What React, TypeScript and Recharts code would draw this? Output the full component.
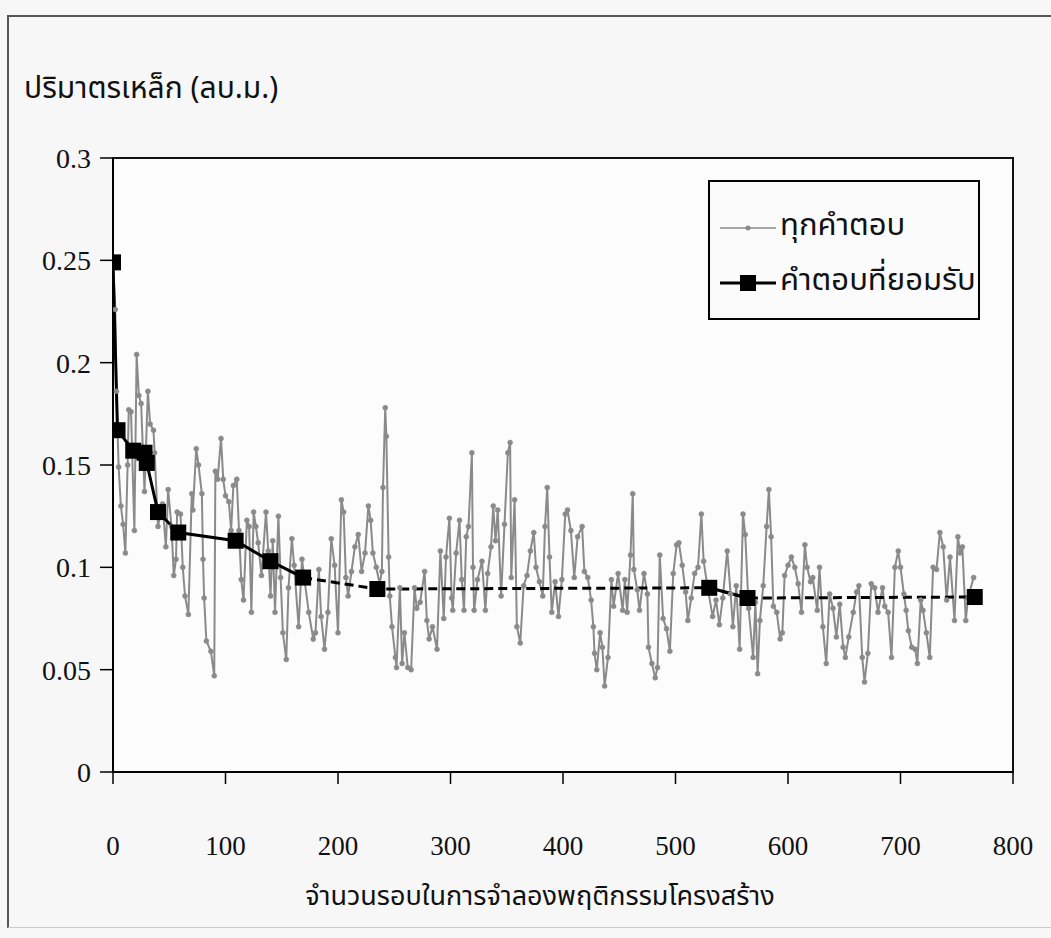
import {
  LineChart,
  Line,
  XAxis,
  YAxis,
  CartesianGrid,
  ReferenceArea,
} from "recharts";

// every trial solution: iteration → steel volume (m³)
const ALL_X = [
  0, 2, 3, 5, 7, 9, 11, 13, 14, 16, 19, 21, 23, 25, 28, 31, 33, 36, 37, 40, 44, 47, 49, 52, 54, 56, 57, 60, 62, 64, 67,
  70, 71, 74, 76, 79, 80, 81, 83, 87, 90, 91, 93, 96, 98, 100, 103, 105, 107,
  110, 112, 114, 116, 119, 121, 123, 125, 127, 129, 132, 136, 138, 140, 142, 144, 147, 149, 151, 154, 156, 159, 161,
  165, 168, 170, 174, 178, 180, 183, 185, 188, 191, 194, 197, 200, 203, 205, 207, 209, 212, 215, 218, 221, 224,
  227, 229, 231, 234, 237, 239, 240, 242, 243, 245, 246, 248, 251, 252, 255, 257, 259, 262, 265, 268, 270, 273, 277,
  279, 281, 284, 288, 291, 294, 296, 299, 301, 302, 305, 308, 310, 312, 314, 316, 319, 320, 321, 324, 328, 331, 333,
  336, 338,
  340, 342, 345, 348, 351, 353, 354, 357, 359, 362, 365, 368, 371, 374, 376, 379, 382, 384, 386, 388, 390, 393, 396,
  399, 402, 404, 407, 410, 413, 417, 419, 422, 425, 427, 428, 430, 433, 435, 437, 440, 443, 445, 449, 453,
  455, 457, 460, 462, 463, 466, 468, 472, 475, 476, 479, 482, 484, 486, 489, 492, 495, 498, 501, 503, 506, 509, 511,
  514, 517, 520, 523, 525, 528, 533, 536, 539, 542, 546, 549, 551, 554, 557, 560, 562, 565, 569,
  571, 573, 575, 578, 581, 583, 585, 587, 590, 593, 595, 597, 600, 603, 606, 609, 612, 615, 617, 620, 622, 626, 628,
  631, 634, 637, 640, 643, 646, 649, 651, 654, 658, 661, 663, 666, 668, 671, 674, 677, 680, 684,
  686, 689, 692, 695, 698, 700, 703, 705, 707, 710, 713, 715, 718, 720, 723, 726, 729, 732, 735, 738, 741, 744, 748,
  751, 753, 755, 758, 760, 765,
];
const ALL_Y = [
  0.249, 0.226, 0.186, 0.149, 0.13, 0.121, 0.107, 0.15, 0.177, 0.176, 0.118, 0.204, 0.184, 0.18, 0.137, 0.186, 0.17,
  0.167, 0.156, 0.12, 0.131, 0.11, 0.138, 0.12, 0.096, 0.104, 0.127, 0.126, 0.1, 0.086, 0.077,
  0.136, 0.128, 0.158, 0.15, 0.136, 0.104, 0.085, 0.064, 0.059, 0.047, 0.147, 0.143, 0.163, 0.143, 0.135, 0.132,
  0.118, 0.14,
  0.143, 0.118, 0.094, 0.084, 0.123, 0.12, 0.078, 0.127, 0.12, 0.112, 0.096, 0.127, 0.108, 0.086, 0.113, 0.078, 0.125,
  0.095, 0.068, 0.055, 0.09, 0.114, 0.101,
  0.071, 0.104, 0.095, 0.078, 0.065, 0.068, 0.099, 0.076, 0.06, 0.078, 0.114, 0.101, 0.068, 0.133, 0.127, 0.095,
  0.086, 0.098, 0.11, 0.116, 0.098, 0.107,
  0.13, 0.123, 0.107, 0.1, 0.092, 0.098, 0.139, 0.178, 0.164, 0.105, 0.086, 0.071, 0.056, 0.051, 0.09, 0.053, 0.068,
  0.051, 0.05, 0.09, 0.08, 0.083, 0.098,
  0.074, 0.065, 0.071, 0.06, 0.108, 0.075, 0.105, 0.124, 0.085, 0.079, 0.107, 0.123, 0.094, 0.079, 0.115, 0.12, 0.156,
  0.1, 0.079, 0.094, 0.103, 0.079, 0.097,
  0.11, 0.13,
  0.113, 0.128, 0.086, 0.121, 0.156, 0.161, 0.095, 0.133, 0.071, 0.063, 0.091, 0.096, 0.108, 0.117, 0.1, 0.093, 0.086,
  0.12, 0.139, 0.105, 0.078, 0.093, 0.076,
  0.094, 0.126, 0.128, 0.118, 0.095, 0.115, 0.12, 0.098, 0.095, 0.084, 0.071, 0.058, 0.05, 0.068, 0.061, 0.042, 0.056,
  0.094, 0.081, 0.097, 0.079,
  0.094, 0.078, 0.106, 0.136, 0.099, 0.089, 0.079, 0.097, 0.087, 0.061, 0.053, 0.046, 0.051, 0.106, 0.075, 0.07, 0.059,
  0.097, 0.111, 0.112, 0.101, 0.088, 0.074,
  0.085, 0.097, 0.1, 0.126, 0.103, 0.092, 0.076, 0.084, 0.072, 0.085, 0.108, 0.087, 0.071, 0.091, 0.06, 0.126, 0.116,
  0.08, 0.056,
  0.083, 0.048, 0.074, 0.091, 0.12, 0.138, 0.115, 0.081, 0.078, 0.065, 0.068, 0.096, 0.101, 0.105, 0.1, 0.092, 0.078,
  0.111, 0.1, 0.093, 0.095, 0.079, 0.1,
  0.071, 0.053, 0.087, 0.08, 0.066, 0.082, 0.061, 0.056, 0.066, 0.078, 0.088, 0.091, 0.056, 0.044, 0.058, 0.092, 0.09,
  0.078, 0.09,
  0.081, 0.078, 0.056, 0.1, 0.108, 0.1, 0.087, 0.079, 0.069, 0.061, 0.06, 0.053, 0.084, 0.079, 0.068, 0.056, 0.1, 0.099,
  0.117, 0.11, 0.084, 0.105, 0.074,
  0.115, 0.107, 0.11, 0.074, 0.085, 0.095,
];

// accepted solutions
const ACC_X = [0, 4, 18, 28, 30, 40, 58, 109, 140, 169, 235, 530, 564, 766];
const ACC_Y = [0.249, 0.167, 0.157, 0.156, 0.151, 0.127, 0.117, 0.113, 0.103, 0.095, 0.0894, 0.09, 0.085, 0.0855];
// segment i joins point i and i+1; long flat runs look dashed in the source
const ACC_DASHED = [false, false, false, false, false, false, false, false, false, true, true, false, true];

const X_TICKS = [0, 100, 200, 300, 400, 500, 600, 700, 800];
const Y_TICKS = [0, 0.05, 0.1, 0.15, 0.2, 0.25, 0.3];

const Y_TITLE = "ปริมาตรเหล็ก (ลบ.ม.)";
const X_TITLE = "จำนวนรอบในการจำลองพฤติกรรมโครงสร้าง";
const LEGEND_ALL = "ทุกคำตอบ";
const LEGEND_ACC = "คำตอบที่ยอมรับ";

const NUM_FONT = "'Liberation Serif', 'Times New Roman', serif";
const THAI_FONT = "Tahoma, 'Noto Sans Thai', Loma, Garuda, 'DejaVu Sans', sans-serif";
const GRAY = "#8a8a8a";

const allData = ALL_X.map((x, i) => ({ x, y: ALL_Y[i] }));

const accData = ACC_X.map((x, i) => {
  const y = ACC_Y[i];
  const before = i > 0 ? ACC_DASHED[i - 1] : undefined;
  const after = i < ACC_DASHED.length ? ACC_DASHED[i] : undefined;
  return {
    x,
    y,
    solid: before === false || after === false ? y : null,
    dashed: before === true || after === true ? y : null,
  };
});

const SquareDot = (props: any) => {
  const { cx, cy, index } = props;
  if (cx == null || cy == null) return <g key={index} />;
  return <rect key={index} x={cx - 8} y={cy - 8} width={16} height={16} fill="#000" />;
};

function LegendBox() {
  return (
    <div
      style={{
        position: "absolute",
        left: 708,
        top: 180,
        width: 268,
        height: 136,
        border: "2px solid #000",
        background: "#fbfbfb",
        fontFamily: THAI_FONT,
        fontSize: 31,
        color: "#111",
      }}
    >
      <svg width={60} height={136} style={{ position: "absolute", left: 8, top: 0 }}>
        <line x1={2} x2={58} y1={46} y2={46} stroke={GRAY} strokeWidth={1.5} />
        <circle cx={30} cy={46} r={2.5} fill={GRAY} />
        <line x1={2} x2={58} y1={101} y2={101} stroke="#000" strokeWidth={3} />
        <rect x={22} y={93} width={16} height={16} fill="#000" />
      </svg>
      <div style={{ position: "absolute", left: 70, top: 24, lineHeight: "40px", whiteSpace: "nowrap" }}>
        {LEGEND_ALL}
      </div>
      <div style={{ position: "absolute", left: 70, top: 79, lineHeight: "40px", whiteSpace: "nowrap" }}>
        {LEGEND_ACC}
      </div>
    </div>
  );
}

export default function App() {
  return (
    <div
      style={{
        position: "absolute",
        left: 0,
        top: 0,
        width: 1051,
        height: 938,
        background: "#f7f7f7",
        overflow: "hidden",
      }}
    >
      {/* scan frame */}
      <div
        style={{
          position: "absolute",
          left: 7,
          top: 15,
          width: 1060,
          height: 910,
          borderTop: "2px solid #555",
          borderLeft: "2px solid #555",
          borderBottom: "1px solid #ccc",
        }}
      />
      <div
        style={{
          position: "absolute",
          left: 24,
          top: 66,
          fontFamily: THAI_FONT,
          fontSize: 30,
          color: "#111",
          whiteSpace: "nowrap",
        }}
      >
        {Y_TITLE}
      </div>
      <div
        style={{
          position: "absolute",
          left: 113,
          width: 854,
          top: 876,
          textAlign: "center",
          fontFamily: THAI_FONT,
          fontSize: 27,
          color: "#111",
          whiteSpace: "nowrap",
        }}
      >
        {X_TITLE}
      </div>
      <div style={{ position: "absolute", left: 0, top: 0 }}>
        <LineChart width={1051} height={938} margin={{ top: 158, right: 38, bottom: 76, left: 13 }}>
          <ReferenceArea x1={0} x2={800} y1={0} y2={0.3} fill="#fcfcfc" fillOpacity={1} stroke="none" />
          <CartesianGrid vertical={false} stroke="#7a7a7a" strokeWidth={1.5} />
          <ReferenceArea x1={0} x2={800} y1={0} y2={0.3} fill="none" stroke="#111" strokeWidth={2} />
          <XAxis
            type="number"
            dataKey="x"
            domain={[0, 800]}
            ticks={X_TICKS}
            allowDataOverflow
            height={90}
            tickSize={12}
            tickMargin={52}
            axisLine={{ stroke: "#000", strokeWidth: 2 }}
            tickLine={{ stroke: "#000", strokeWidth: 1.5 }}
            tick={{ fill: "#111", fontSize: 27, fontFamily: NUM_FONT }}
          />
          <YAxis
            type="number"
            domain={[0, 0.3]}
            ticks={Y_TICKS}
            width={100}
            tickSize={13}
            tickMargin={9}
            axisLine={{ stroke: "#000", strokeWidth: 2 }}
            tickLine={{ stroke: "#000", strokeWidth: 1.5 }}
            tick={{ fill: "#111", fontSize: 28, fontFamily: NUM_FONT }}
          />
          <Line
            data={allData}
            dataKey="y"
            name={LEGEND_ALL}
            stroke={GRAY}
            strokeWidth={2}
            dot={{ r: 2.5, fill: GRAY, stroke: GRAY, strokeWidth: 0.5 }}
            isAnimationActive={false}
          />
          <Line
            data={accData}
            dataKey="dashed"
            stroke="#000"
            strokeWidth={3}
            strokeDasharray="9 5"
            dot={false}
            legendType="none"
            isAnimationActive={false}
          />
          <Line
            data={accData}
            dataKey="solid"
            stroke="#000"
            strokeWidth={3}
            dot={false}
            legendType="none"
            isAnimationActive={false}
          />
          <Line
            data={accData}
            dataKey="y"
            name={LEGEND_ACC}
            stroke="none"
            dot={SquareDot}
            isAnimationActive={false}
          />
        </LineChart>
      </div>
      <LegendBox />
    </div>
  );
}
